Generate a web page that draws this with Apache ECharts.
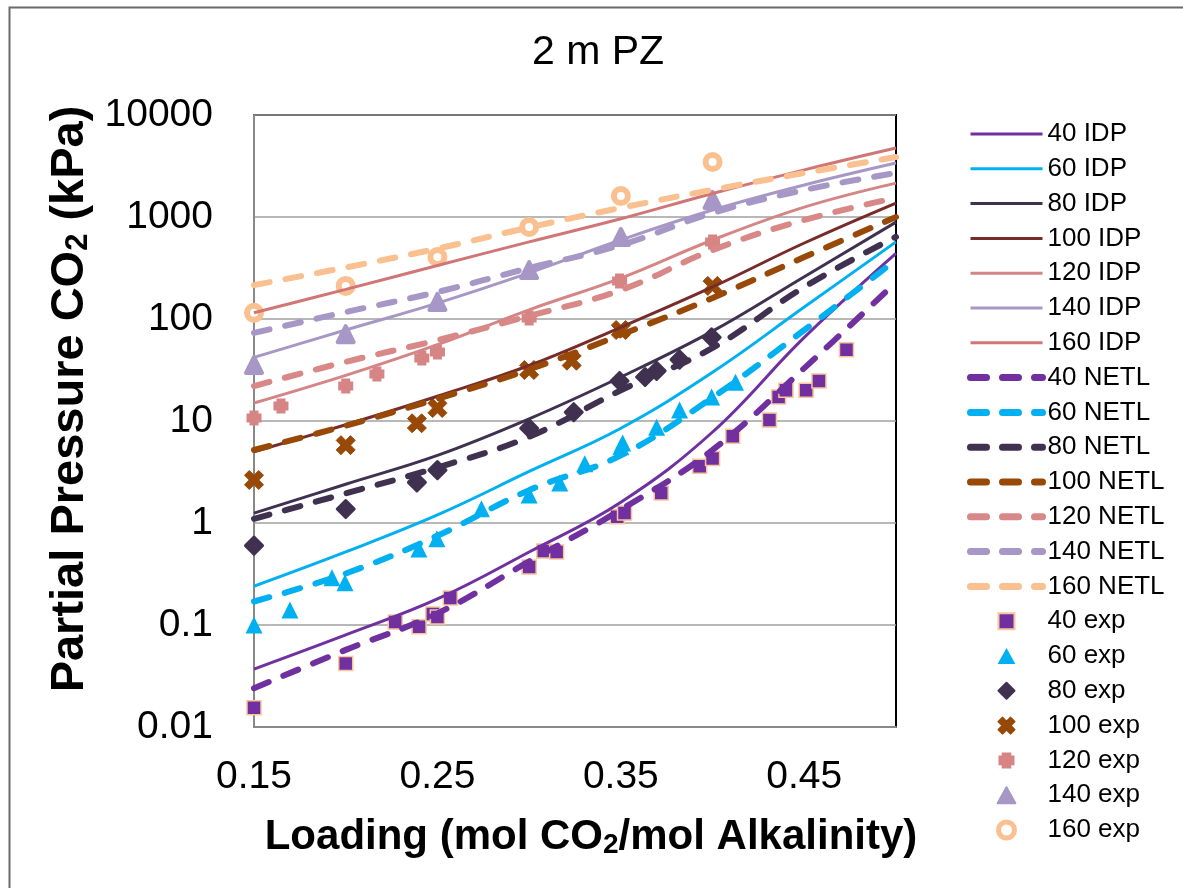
<!DOCTYPE html>
<html>
<head>
<meta charset="utf-8">
<title>2 m PZ</title>
<script src="https://cdn.jsdelivr.net/npm/echarts@6/dist/echarts.min.js"></script>
<style>
  html, body { margin: 0; padding: 0; background: #fff; }
  #chart { width: 1183px; height: 888px; }
</style>
</head>
<body>
<div id="chart"></div>
<script>
const loading = [0.15, 0.2, 0.25, 0.3, 0.35, 0.4, 0.45, 0.5]
const temps = [40, 60, 80, 100, 120, 140, 160]

// IDP model (solid lines), kPa
const idp40 = [0.037, 0.08, 0.18, 0.52, 1.6, 7.8, 66, 440]
const idp60 = [0.24, 0.52, 1.2, 3.2, 8.5, 30, 131, 570]
const idp80 = [1.25, 2.4, 4.6, 10.5, 27, 76, 260, 890]
const idp100 = [5.0, 9.2, 17.5, 35, 83, 206, 556, 1370]
const idp120 = [15, 28, 56, 123, 252, 595, 1250, 2150]
const idp140 = [42, 78, 143, 283, 595, 1170, 2060, 3380]
const idp160 = [115, 195, 335, 570, 960, 1700, 2900, 4750]

// NETL model (dashed lines), kPa
const netl40 = [0.024, 0.057, 0.13, 0.42, 1.35, 5.2, 33, 230]
const netl60 = [0.17, 0.32, 0.75, 2.1, 4.6, 17, 78, 380]
const netl80 = [1.1, 1.95, 3.5, 7.0, 20, 52, 206, 640]
const netl100 = [5.2, 9.0, 16.5, 32, 70, 161, 405, 1000]
const netl120 = [22, 38, 62, 107, 192, 474, 935, 1540]
const netl140 = [73, 117, 184, 316, 531, 1094, 1840, 2700]
const netl160 = [215, 320, 490, 790, 1230, 1850, 2700, 3875]

// experimental points
const exp40X = [0.15, 0.2, 0.227, 0.24, 0.2475, 0.25, 0.257, 0.3, 0.308, 0.315, 0.348, 0.352, 0.372, 0.393, 0.4, 0.411, 0.431, 0.436, 0.44, 0.451, 0.458, 0.473]
const exp40Y = [0.0154, 0.042, 0.107, 0.096, 0.128, 0.12, 0.184, 0.37, 0.53, 0.52, 1.15, 1.25, 1.97, 3.6, 4.3, 7.1, 10.2, 17.2, 20, 20, 24.7, 50]
const exp60X = [0.15, 0.1696, 0.1925, 0.1996, 0.2399, 0.2497, 0.274, 0.3, 0.3167, 0.3303, 0.35, 0.351, 0.3695, 0.382, 0.3995, 0.4125]
const exp60Y = [0.1, 0.14, 0.29, 0.26, 0.556, 0.7, 1.38, 1.88, 2.47, 3.8, 5.6, 6.1, 8.7, 12.8, 17.2, 24]
const exp80X = [0.15, 0.2, 0.2388, 0.25, 0.3, 0.3243, 0.3493, 0.3632, 0.3695, 0.382, 0.3995]
const exp80Y = [0.6, 1.37, 2.5, 3.3, 8.5, 12.2, 24.7, 27, 31, 40, 66]
const exp100X = [0.15, 0.2, 0.2388, 0.25, 0.3, 0.3232, 0.35, 0.4]
const exp100Y = [2.64, 5.8, 9.5, 13.4, 31.6, 39, 78, 211]
const exp120X = [0.15, 0.1647, 0.2, 0.217, 0.2415, 0.25, 0.3, 0.3493, 0.4]
const exp120Y = [10.7, 14, 22, 28.9, 41.5, 47.4, 102, 236, 569]
const exp140X = [0.15, 0.2, 0.25, 0.3, 0.35, 0.4]
const exp140Y = [35.4, 71, 147, 302, 637, 1470]
const exp160X = [0.15, 0.2, 0.25, 0.3, 0.35, 0.4]
const exp160Y = [115, 211, 405, 798, 1607, 3460]

const idpData = [idp40, idp60, idp80, idp100, idp120, idp140, idp160]
const netlData = [netl40, netl60, netl80, netl100, netl120, netl140, netl160]
const expX = [exp40X, exp60X, exp80X, exp100X, exp120X, exp140X, exp160X]
const expY = [exp40Y, exp60Y, exp80Y, exp100Y, exp120Y, exp140Y, exp160Y]

const idpColors = ["#7030A0", "#00B0F0", "#403151", "#772C2A", "#D58585", "#A797C6", "#D07676"]
const netlColors = ["#7030A0", "#00B0F0", "#403151", "#984807", "#D88886", "#A797C6", "#FAC090"]
const expColors = ["#7030A0", "#00B0F0", "#403151", "#984807", "#D68584", "#A797C6", "#FAC090"]

const FONT = "'Liberation Sans', Arial, sans-serif"

// path symbols keep their aspect in the legend, built-in ones get stretched
const SQUARE = "path://M0,0 H10 V10 H0 Z"
const TRIANGLE = "path://M5,0 L10,9 L0,9 Z"
const DIAMOND = "path://M5,0 L10,5 L5,10 L0,5 Z"
const CROSS = "path://M2.5,0 L5,2.5 L7.5,0 L10,2.5 L7.5,5 L10,7.5 L7.5,10 L5,7.5 L2.5,10 L0,7.5 L2.5,5 L0,2.5 Z"
const PLUS = "path://M2,0 H8 V2 H10 V8 H8 V10 H2 V8 H0 V2 H2 Z"

const expSymbols = [
  { symbol: SQUARE, size: 14, itemStyle: { borderColor: "#F9C59A", borderWidth: 1.5 } },
  { symbol: TRIANGLE, size: 17, itemStyle: {} },
  { symbol: DIAMOND, size: 17, itemStyle: { borderColor: "#403151", borderWidth: 3, borderJoin: "round" } },
  { symbol: CROSS, size: 19, itemStyle: { borderColor: "#984807", borderWidth: 1, borderJoin: "round" } },
  { symbol: PLUS, size: 15, itemStyle: {} },
  { symbol: TRIANGLE, size: 16, itemStyle: { borderColor: "#A797C6", borderWidth: 4, borderJoin: "round" } },
  { symbol: "circle", size: 14, itemStyle: { color: "#ffffff", borderColor: "#FAC090", borderWidth: 6 } },
]

const series = []
const legendData = []

temps.forEach((t, i) => {
  series.push({
    name: t + " IDP",
    type: "line",
    smooth: 0.4,
    symbol: "none",
    data: loading.map((x, j) => [x, idpData[i][j]]),
    lineStyle: { width: 3, color: idpColors[i] },
    itemStyle: { color: idpColors[i] },
  })
  legendData.push({ name: t + " IDP", lineStyle: { width: 3 }, itemStyle: { opacity: 0 } })
})

temps.forEach((t, i) => {
  series.push({
    name: t + " NETL",
    type: "line",
    smooth: 0.4,
    symbol: "none",
    data: loading.map((x, j) => [x, netlData[i][j]]),
    lineStyle: { width: 6, color: netlColors[i], type: [16, 16], cap: "round" },
    itemStyle: { color: netlColors[i] },
  })
  legendData.push({ name: t + " NETL", lineStyle: { width: 7 }, itemStyle: { opacity: 0 } })
})

temps.forEach((t, i) => {
  const s = expSymbols[i]
  series.push({
    name: t + " exp",
    type: "scatter",
    symbol: s.symbol,
    symbolSize: s.size,
    data: expX[i].map((x, j) => [x, expY[i][j]]),
    itemStyle: Object.assign({ color: expColors[i], opacity: 1 }, s.itemStyle),
  })
  const item = { name: t + " exp" }
  if (t === 160) item.itemStyle = { borderWidth: 5 }
  legendData.push(item)
})

const chart = echarts.init(document.getElementById("chart"))

chart.setOption({
  animation: false,
  backgroundColor: "#ffffff",
  textStyle: { fontFamily: FONT },
  title: {
    text: "2 m PZ",
    left: 527,
    top: 27,
    textStyle: { fontSize: 41, fontWeight: "normal", color: "#000", fontFamily: FONT },
  },
  graphic: [
    {
      type: "rect",
      left: 7,
      top: 5,
      shape: { width: 1200, height: 900 },
      style: { fill: "none", stroke: "#6b6b6b", lineWidth: 2 },
      silent: true,
    },
  ],
  legend: {
    orient: "vertical",
    left: 962,
    top: 116,
    itemWidth: 72,
    itemHeight: 16,
    itemGap: 8.8,
    selectedMode: false,
    textStyle: { fontSize: 26, lineHeight: 26, color: "#000", fontFamily: FONT },
    data: legendData,
  },
  grid: {
    left: 254,
    top: 115,
    right: 287,
    bottom: 161,
    show: true,
    borderColor: "#000",
    borderWidth: 2,
    outerBoundsMode: "none",
  },
  xAxis: {
    type: "value",
    min: 0.15,
    max: 0.5,
    interval: 0.05,
    name: "{a|Loading (mol CO}{b|2}{a|/mol Alkalinity)}",
    nameLocation: "middle",
    nameGap: 88,
    nameTextStyle: {
      padding: [0, 0, 0, 32],
      rich: {
        a: { fontSize: 42, fontWeight: "bold", color: "#000", fontFamily: FONT, lineHeight: 44 },
        b: { fontSize: 28, fontWeight: "bold", color: "#000", fontFamily: FONT, verticalAlign: "bottom", lineHeight: 28 },
      },
    },
    axisLine: { lineStyle: { color: "#898989", width: 2 } },
    axisTick: { show: false },
    splitLine: { show: false },
    axisLabel: {
      fontSize: 39,
      color: "#000",
      margin: 31,
      fontFamily: FONT,
      formatter: (v) => (Math.round(v * 100) % 10 === 5 ? v.toFixed(2) : ""),
    },
  },
  yAxis: {
    type: "log",
    logBase: 10,
    min: 0.01,
    max: 10000,
    name: "{a|Partial Pressure CO}{b|2}{a| (kPa)}",
    nameLocation: "middle",
    nameGap: 160,
    nameTextStyle: {
      padding: [0, 0, 0, 44],
      rich: {
        a: { fontSize: 47, fontWeight: "bold", color: "#000", fontFamily: FONT, lineHeight: 48 },
        b: { fontSize: 31, fontWeight: "bold", color: "#000", fontFamily: FONT, verticalAlign: "bottom", lineHeight: 31 },
      },
    },
    axisLine: { show: true, lineStyle: { color: "#898989", width: 2 } },
    axisTick: { show: false },
    splitLine: { lineStyle: { color: "#A0A0A0", width: 1.5 } },
    axisLabel: {
      fontSize: 39,
      color: "#000",
      margin: 41,
      fontFamily: FONT,
      formatter: (v) => String(+v.toPrecision(6)),
    },
  },
  series: series,
})
</script>
</body>
</html>
